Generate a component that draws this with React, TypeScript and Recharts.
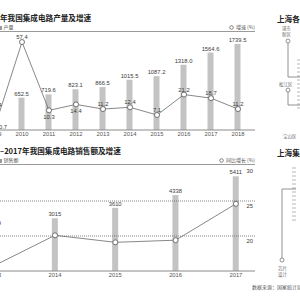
import React from 'react';
import { ComposedChart, Bar, Line, XAxis, YAxis, ReferenceLine, LabelList } from 'recharts';

// ---- Chart 1: 集成电路产量及增速 ----
const years1 = [2009, 2010, 2011, 2012, 2013, 2014, 2015, 2016, 2017, 2018];
const output1 = [414.4, 652.5, 719.6, 823.1, 866.5, 1015.5, 1087.2, 1318.0, 1564.6, 1739.5];
const growth1 = [-0.7, 57.4, 10.3, 14.4, 11.2, 12.4, 7.1, 21.2, 18.7, 11.2];

// ---- Chart 2: 集成电路销售额及增速 ----
const years2 = [2013, 2014, 2015, 2016, 2017];
const sales2 = [2509, 3015, 3610, 4338, 5411];
const growth2 = [15.8, 20.1, 19.1, 19.4, 24.6];
const gridTicks2 = [25, 20];
const topTick2 = 30;

const data1 = years1.map((y, i) => ({ year: y, output: output1[i], growth: growth1[i] }));
const data2 = years2.map((y, i) => ({ year: y, sales: sales2[i], growth: growth2[i] }));

const NUM = "'Liberation Sans', Arial, sans-serif";
const CJK = "'Noto Sans CJK SC', sans-serif";
const BAR = '#c3c3c3';
const LINE = '#6a6a6a';
const TXT = '#3a3a3a';
const BELOW = new Set([2, 3]);

const GrowthLabel = (p: any) => {
  const { x, y, value, index } = p;
  let tx = x;
  let ty = y - 5;
  let anchor: any = 'middle';
  if (index === 0) {
    tx = x + 2;
    ty = y + 0.5;
    anchor = 'start';
  } else if (BELOW.has(index)) {
    ty = y + 6.5;
  }
  return (
    <text x={tx} y={ty} textAnchor={anchor} dominantBaseline="central" fontSize={5.8} fill={TXT} fontFamily={NUM}>
      {Number(value).toFixed(1)}
    </text>
  );
};

const barLabel = (digits: number) => (p: any) => {
  const { x, y, width, value } = p;
  return (
    <text x={x + width / 2} y={y - 4} textAnchor="middle" dominantBaseline="central" fontSize={5.8} fill={TXT} fontFamily={NUM}>
      {Number(value).toFixed(digits)}
    </text>
  );
};

const refTickLabel = (value: number) => (p: any) => {
  const vb = p.viewBox || {};
  return (
    <text x={vb.x + vb.width - 2} y={vb.y + 4.5} textAnchor="end" dominantBaseline="central" fontSize={5.8} fill={TXT} fontFamily={NUM}>
      {value}
    </text>
  );
};

const tickStyle = { fontSize: 5.8, fill: '#555', fontFamily: NUM };
const dotStyle = { r: 2.5, fill: '#fff', stroke: '#555', strokeWidth: 0.8 };

const Header = ({ top, prefix, title, sub, legend }: any) => (
  <>
    <div style={{ position: 'absolute', left: 0, top: top, fontFamily: CJK, fontWeight: 700, fontSize: 7.6, lineHeight: '10px', color: '#222', whiteSpace: 'nowrap' }}>
      <span style={{ position: 'absolute', right: '100%' }}>{prefix}</span>
      {title}
    </div>
    <div style={{ position: 'absolute', left: -1, top: top + 11, fontFamily: CJK, fontSize: 5, lineHeight: '6px', color: '#555', whiteSpace: 'nowrap' }}>
      <span style={{ display: 'inline-block', width: 2.5, height: 4, background: '#999', marginRight: 2, verticalAlign: 'middle' }} />
      {sub}
    </div>
    <div style={{ position: 'absolute', right: 45, top: top + 11, fontFamily: CJK, fontSize: 5, lineHeight: '6px', color: '#555', whiteSpace: 'nowrap' }}>
      <svg width={5} height={5} style={{ verticalAlign: 'middle', marginRight: 1.5 }}>
        <circle cx={2.5} cy={2.5} r={1.8} fill="#fff" stroke="#555" strokeWidth={0.7} />
      </svg>
      {legend}
    </div>
    <div style={{ position: 'absolute', left: 0, top: top + 18, width: 255, height: 1.2, background: '#9a9a9a' }} />
  </>
);

const dashesA = [60, 64, 68, 72, 76, 80, 84, 88, 92, 96, 100, 104, 108];
const dashesB = [168, 172, 176, 180, 184, 188, 192, 196, 200, 204, 208, 212, 216, 220];

const SidePanel = () => (
  <svg width={300} height={300} style={{ position: 'absolute', left: 0, top: 0 }}>
    <g fontFamily={CJK}>
      <text x={277} y={18} fontSize={7.6} fontWeight={700} fill="#222" dominantBaseline="central">上海各区</text>
      <text x={282} y={28} fontSize={4.5} fill="#666" dominantBaseline="central">浦东</text>
      <text x={282} y={33.5} fontSize={4.5} fill="#666" dominantBaseline="central">新区</text>
      <text x={279} y={84} fontSize={4.5} fill="#666" dominantBaseline="central">松江区</text>
      <text x={283} y={136} fontSize={4.5} fill="#666" dominantBaseline="central">宝山区</text>
      <text x={277} y={152} fontSize={7.6} fontWeight={700} fill="#222" dominantBaseline="central">上海集成</text>
      <text x={278} y={268} fontSize={4.5} fill="#666" dominantBaseline="central">芯片</text>
      <text x={278} y={274} fontSize={4.5} fill="#666" dominantBaseline="central">设计</text>
      <text x={252} y={286} fontSize={5} fill="#555" dominantBaseline="central">数据来源：国家统计局</text>
    </g>
    <polyline points="288,43 288,77 300,77" fill="none" stroke="#777" strokeWidth={0.8} />
    <circle cx={288} cy={41} r={2} fill="#fff" stroke="#666" strokeWidth={0.7} />
    <polyline points="288,92 288,105 300,105" fill="none" stroke="#777" strokeWidth={0.8} />
    <circle cx={288} cy={90} r={2} fill="#fff" stroke="#666" strokeWidth={0.7} />
    {dashesA.map((d) => (
      <line key={'a' + d} x1={297} x2={300} y1={d} y2={d} stroke="#888" strokeWidth={0.6} />
    ))}
    {dashesB.map((d) => (
      <line key={'b' + d} x1={292} x2={296} y1={d} y2={d} stroke="#888" strokeWidth={0.6} />
    ))}
    <polyline points="296,189 282,189 282,258" fill="none" stroke="#777" strokeWidth={0.8} />
    <circle cx={282} cy={260} r={2} fill="#fff" stroke="#666" strokeWidth={0.7} />
  </svg>
);

export default function App() {
  return (
    <div style={{ position: 'absolute', left: 0, top: 0, width: 300, height: 300, overflow: 'hidden', background: '#fff' }}>
      <Header top={13} prefix="2009—2018" title="年我国集成电路产量及增速" sub="产量" legend="增速 (%)" />
      <Header top={146} prefix="2013" title="–2017年我国集成电路销售额及增速" sub="销售额" legend="同比增长 (%)" />
      <SidePanel />

      <div style={{ position: 'absolute', left: -20, top: 20 }}>
        <ComposedChart width={275} height={122} data={data1} margin={{ top: 11, right: 0, left: 0, bottom: 0 }}>
          <XAxis dataKey="year" type="number" domain={[2008.4444, 2018.6296]} ticks={years1} interval={0}
            tickLine={false} tickSize={0} tickMargin={2} height={12} tick={tickStyle}
            axisLine={{ stroke: '#8a8a8a', strokeWidth: 1 }} />
          <YAxis yAxisId="v" domain={[0, 2000]} hide />
          <YAxis yAxisId="g" orientation="right" domain={[-3.24, 65]} hide />
          <Bar yAxisId="v" dataKey="output" fill={BAR} barSize={6} isAnimationActive={false}>
            <LabelList dataKey="output" content={barLabel(1)} />
          </Bar>
          <Line yAxisId="g" dataKey="growth" stroke={LINE} strokeWidth={0.8} dot={dotStyle}
            label={GrowthLabel} isAnimationActive={false} />
        </ComposedChart>
      </div>

      <div style={{ position: 'absolute', left: -40, top: 155 }}>
        <ComposedChart width={295} height={128} data={data2} margin={{ top: 11, right: 0, left: 0, bottom: 0 }}>
          <XAxis dataKey="year" type="number" domain={[2012.4245, 2017.3167]} ticks={years2} interval={0}
            tickLine={false} tickSize={0} tickMargin={2} height={12} tick={tickStyle}
            axisLine={{ stroke: '#8a8a8a', strokeWidth: 1 }} />
          <YAxis yAxisId="v" domain={[0, 6000]} hide />
          <YAxis yAxisId="g" orientation="right" domain={[15, 30]} hide />
          {gridTicks2.map((t) => (
            <ReferenceLine key={t} yAxisId="g" y={t} stroke="#666" strokeWidth={0.8} strokeDasharray="1 1"
              label={refTickLabel(t)} />
          ))}
          <ReferenceLine yAxisId="g" y={topTick2} stroke="none" strokeOpacity={0} label={refTickLabel(topTick2)} />
          <Bar yAxisId="v" dataKey="sales" fill={BAR} barSize={6} isAnimationActive={false}>
            <LabelList dataKey="sales" content={barLabel(0)} />
          </Bar>
          <Line yAxisId="g" dataKey="growth" stroke={LINE} strokeWidth={0.8} dot={dotStyle} isAnimationActive={false} />
        </ComposedChart>
      </div>
    </div>
  );
}
